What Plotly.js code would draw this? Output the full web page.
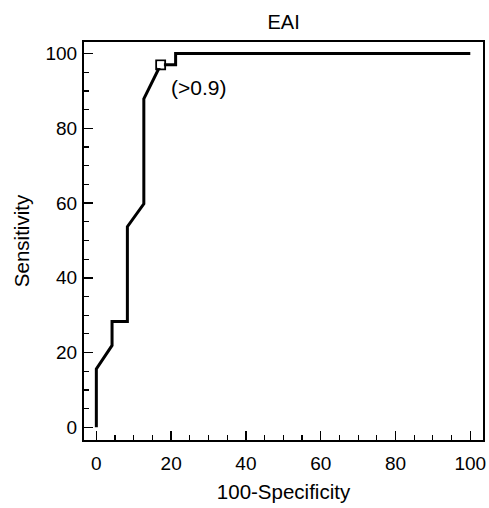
<!DOCTYPE html>
<html>
<head>
<meta charset="utf-8">
<script src="https://cdn.plot.ly/plotly-3.0.1.min.js"></script>
<style>html,body{margin:0;padding:0;background:#fff;}#chart{width:489px;height:508px;}</style>
</head>
<body>
<div id="chart"></div>
<script>
// ROC curve for EAI: 100-Specificity (x) vs Sensitivity (y)
var fpr = [0, 0, 4.2, 4.2, 8.3, 8.3, 12.7, 12.7, 17.2, 21.2, 21.2, 100];
var sensitivity = [0, 15.6, 21.9, 28.3, 28.3, 53.7, 59.8, 87.9, 97.0, 97.0, 100, 100];
var cutoffX = [17.2];
var cutoffY = [97.0];
var cutoffLabel = "(>0.9)";
var xTicks = [0, 20, 40, 60, 80, 100];
var yTicks = [0, 20, 40, 60, 80, 100];

var fam = "Liberation Sans, Arial, sans-serif";
var tickFont = {family: fam, size: 19, color: "#000"};
var titleFont = {family: fam, size: 20.5, color: "#000"};

var traces = [
  {x: fpr, y: sensitivity, type: "scatter", mode: "lines",
   line: {color: "#000", width: 3}, hoverinfo: "skip"},
  {x: cutoffX, y: cutoffY, type: "scatter", mode: "markers",
   marker: {symbol: "square-open", size: 9, color: "#000", line: {width: 1.8, color: "#000"}}},
  {x: cutoffX, y: cutoffY, type: "scatter", mode: "markers",
   marker: {symbol: "square", size: 6.5, color: "#fff"}}
];

var axisCommon = {
  showgrid: false, zeroline: false, showline: true, linecolor: "#000", linewidth: 2,
  mirror: true, ticks: "inside", ticklen: 9, tickwidth: 1.5, tickcolor: "#000",
  tickfont: tickFont,
  minor: {ticks: "inside", ticklen: 5, tickwidth: 1.2, tickcolor: "#000", dtick: 5}
};

var layout = {
  width: 489, height: 508,
  margin: {l: 84, r: 6, t: 42, b: 68},
  paper_bgcolor: "#fff", plot_bgcolor: "#fff",
  showlegend: false,
  font: tickFont,
  title: {text: "EAI", font: {family: fam, size: 20, color: "#000"}, x: 0.58, xanchor: "center", y: 0.957, yanchor: "middle"},
  xaxis: Object.assign({}, axisCommon, {
    range: [-3.3, 103.4], tickvals: xTicks, ticktext: xTicks.map(String),
    ticklabelstandoff: 5,
    title: {text: "100-Specificity", font: titleFont, standoff: 12}
  }),
  yaxis: Object.assign({}, axisCommon, {
    range: [-3.4, 103.1], tickvals: yTicks, ticktext: yTicks.map(String),
    ticklabelstandoff: 1,
    title: {text: "Sensitivity", font: titleFont, standoff: 10}
  }),
  annotations: [{
    x: 27.2, y: 90.8, xref: "x", yref: "y", text: cutoffLabel, showarrow: false,
    font: {family: fam, size: 21, color: "#000"}, xanchor: "center", yanchor: "middle"
  }]
};

Plotly.newPlot("chart", traces, layout, {staticPlot: true, displayModeBar: false});
</script>
</body>
</html>
